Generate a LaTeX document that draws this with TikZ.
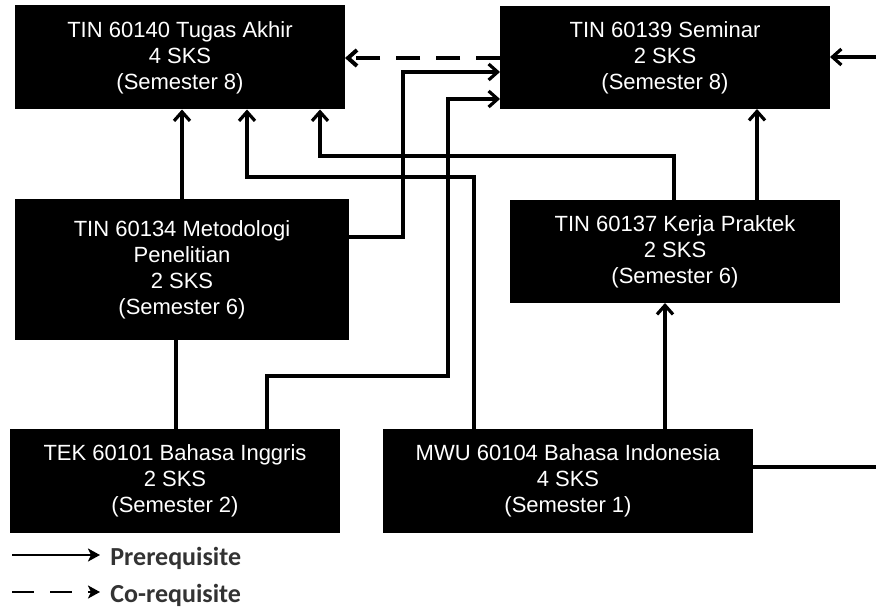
\documentclass[tikz,border=0pt]{standalone}
\usepackage{fontspec}
\setmainfont{Liberation Sans}
\newfontfamily\legendfont{Carlito}
\usetikzlibrary{arrows.meta}
\begin{document}
\begin{tikzpicture}[x=0.5pt, y=-0.5pt,
	course/.style = {fill=black, text=white, align=center, inner sep=0pt, outer sep=0pt,
		minimum width=165pt, minimum height=52pt, font=\fontsize{11}{13}\selectfont},
	link/.style = {line width=1.6pt},
	pre/.style = {link, -{Straight Barb[length=4.5pt,width=8pt]}},
	co/.style = {pre, line width=2pt, dash pattern=on 12pt off 8pt},
	keyarrow/.style = {line width=1.2pt, shorten >=5pt, -{Stealth[length=6pt,width=6.5pt,inset=1.5pt]}},
	keytext/.style = {anchor=base west, inner sep=0pt, text=black!80,
		font=\legendfont\bfseries\fontsize{13}{15}\selectfont}]
	\clip (0,0) rectangle (876,609);
	\fill [white] (0,0) rectangle (876,609);
	% courses
	\node [course] (TA) at (180,57.5) {TIN 60140 Tugas Akhir\\4 SKS\\(Semester 8)};
	\node [course, minimum height=51.5pt] (SEM) at (665,57.5) {TIN 60139 Seminar\\2 SKS\\(Semester 8)};
	\node [course, minimum width=167pt, minimum height=70.5pt] (MP) at (182,269.5) {TIN 60134 Metodologi\\Penelitian\\2 SKS\\(Semester 6)};
	\node [course, minimum height=51.5pt] (KP) at (675,251.5) {TIN 60137 Kerja Praktek\\2 SKS\\(Semester 6)};
	\node [course] (BI) at (175,481) {TEK 60101 Bahasa Inggris\\2 SKS\\(Semester 2)};
	\node [course, minimum width=185pt] (BIND) at (568,481) {MWU 60104 Bahasa Indonesia\\4 SKS\\(Semester 1)};
	% prerequisites
	\draw [pre] (MP.north) -- (MP.north |- TA.south);
	\draw [pre] (BIND.north -| 474,0) |- (247,177) -- (TA.south -| 247,0);
	\draw [pre] (KP.north -| 674,0) |- (320,156) -- (TA.south -| 320,0);
	\draw [pre] (KP.north -| 757,0) -- (SEM.south -| 757,0);
	\draw [pre] (MP.east |- 0,237) -| (403,72) -- (SEM.west |- 0,72);
	\draw [pre] (BI.north -| 267,0) |- (448,376) |- (SEM.west |- 0,99);
	\draw [link] (BI.north -| 176,0) -- (MP.south -| 176,0);
	\draw [pre] (BIND.north -| 665,0) -- (KP.south -| 665,0);
	\draw [pre] (BIND.east |- 0,467) -| (900,57) -- (SEM.east |- 0,57);
	% co-requisite
	\draw [co] (SEM.west |- 0,58) -- (TA.east |- 0,58);
	% legend
	\node [keytext] (prereq) at (110,565) {Prerequisite};
	\node [keytext] (coreq) at (110,602) {Co-requisite};
	\coordinate (keypre) at (12,555);
	\coordinate (keyco) at (12,592);
	\draw [keyarrow] (keypre) -- (prereq.west |- keypre);
	\draw [keyarrow, dash pattern=on 11pt off 8pt] (keyco) -- (coreq.west |- keyco);
\end{tikzpicture}
\end{document}
